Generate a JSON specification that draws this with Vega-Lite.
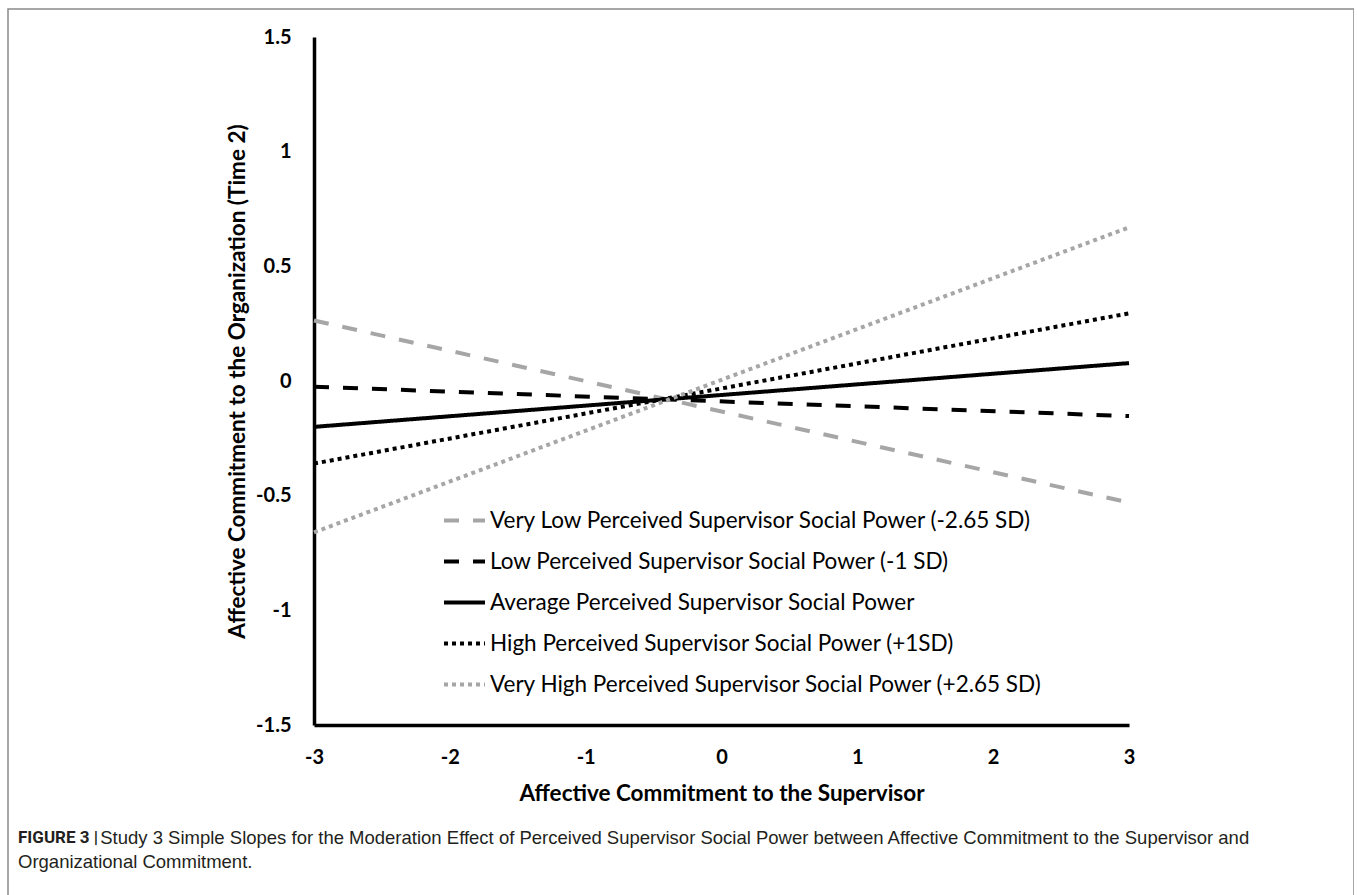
{
  "$schema": "https://vega.github.io/schema/vega-lite/v6.json",
  "width": 1346,
  "height": 900,
  "autosize": {"type": "none"},
  "padding": {"left": 8, "top": 9, "right": 0, "bottom": 0},
  "background": "white",
  "config": {
    "view": {"stroke": "#8a8a8a", "strokeWidth": 1.5},
    "font": "Lato",
    "axis": {
      "grid": false,
      "ticks": false,
      "tickSize": 0,
      "domainColor": "black",
      "domainWidth": 3.5,
      "labelFont": "Lato",
      "labelFontSize": 20,
      "labelFontWeight": "bold",
      "labelColor": "black",
      "titleFont": "Lato",
      "titleFontSize": 22.5,
      "titleFontWeight": "bold",
      "titleColor": "black",
      "labelFlush": false,
      "labelOverlap": false
    }
  },
  "title": {
    "text": "FIGURE 3 |",
    "subtitle": [
      "\u200b\u00a0\u00a0\u00a0\u00a0\u00a0\u00a0\u00a0\u00a0\u00a0\u00a0\u00a0\u00a0\u00a0\u00a0\u00a0\u00a0Study 3 Simple Slopes for the Moderation Effect of Perceived Supervisor Social Power between Affective Commitment to the Supervisor and",
      "Organizational Commitment."
    ],
    "orient": "bottom",
    "anchor": "start",
    "frame": "group",
    "dx": 10,
    "offset": -79,
    "baseline": "top",
    "font": "Roboto",
    "fontSize": 17,
    "fontWeight": "bold",
    "color": "#231f20",
    "subtitleFont": "Liberation Sans",
    "subtitleFontSize": 18.5,
    "subtitleFontWeight": "normal",
    "subtitleColor": "#231f20",
    "subtitlePadding": -18,
    "subtitleLineHeight": 24
  },
  "data": {
    "values": [
      {"x": -3, "y": 0.264, "series": "Very Low Perceived Supervisor Social Power (-2.65 SD)"},
      {"x": 3, "y": -0.53, "series": "Very Low Perceived Supervisor Social Power (-2.65 SD)"},
      {"x": -3, "y": -0.025, "series": "Low Perceived Supervisor Social Power (-1 SD)"},
      {"x": 3, "y": -0.153, "series": "Low Perceived Supervisor Social Power (-1 SD)"},
      {"x": -3, "y": -0.2, "series": "Average Perceived Supervisor Social Power"},
      {"x": 3, "y": 0.078, "series": "Average Perceived Supervisor Social Power"},
      {"x": -3, "y": -0.36, "series": "High Perceived Supervisor Social Power (+1SD)"},
      {"x": 3, "y": 0.295, "series": "High Perceived Supervisor Social Power (+1SD)"},
      {"x": -3, "y": -0.66, "series": "Very High Perceived Supervisor Social Power (+2.65 SD)"},
      {"x": 3, "y": 0.67, "series": "Very High Perceived Supervisor Social Power (+2.65 SD)"}
    ]
  },
  "mark": {"type": "line", "strokeWidth": 4},
  "encoding": {
    "x": {
      "field": "x",
      "type": "quantitative",
      "scale": {"domain": [-3, 3], "range": [306, 1121], "nice": false, "zero": false},
      "axis": {
        "orient": "bottom",
        "offset": -184,
        "values": [-3, -2, -1, 0, 1, 2, 3],
        "labelExpr": "'' + datum.value",
        "labelPadding": 22,
        "title": "Affective Commitment to the Supervisor",
        "titlePadding": 15
      }
    },
    "y": {
      "field": "y",
      "type": "quantitative",
      "scale": {"domain": [-1.5, 1.5], "range": [716, 28], "nice": false, "zero": false},
      "axis": {
        "orient": "left",
        "offset": -306,
        "values": [-1.5, -1, -0.5, 0, 0.5, 1, 1.5],
        "labelExpr": "'' + datum.value",
        "labelPadding": 23,
        "title": "Affective Commitment to the Organization (Time 2)",
        "titlePadding": 6
      }
    },
    "color": {
      "field": "series",
      "type": "nominal",
      "scale": {
        "domain": [
          "Very Low Perceived Supervisor Social Power (-2.65 SD)",
          "Low Perceived Supervisor Social Power (-1 SD)",
          "Average Perceived Supervisor Social Power",
          "High Perceived Supervisor Social Power (+1SD)",
          "Very High Perceived Supervisor Social Power (+2.65 SD)"
        ],
        "range": ["#a6a6a6", "#000000", "#000000", "#000000", "#a6a6a6"]
      },
      "legend": {
        "orient": "none",
        "legendX": 434,
        "legendY": 489,
        "title": null,
        "symbolType": "stroke",
        "symbolSize": 1681,
        "symbolStrokeWidth": 4,
        "labelFont": "Lato",
        "labelFontSize": 22.5,
        "labelColor": "black",
        "labelLimit": 800,
        "labelOffset": 3,
        "rowPadding": 7,
        "padding": 0
      }
    },
    "strokeDash": {
      "field": "series",
      "type": "nominal",
      "scale": {
        "domain": [
          "Very Low Perceived Supervisor Social Power (-2.65 SD)",
          "Low Perceived Supervisor Social Power (-1 SD)",
          "Average Perceived Supervisor Social Power",
          "High Perceived Supervisor Social Power (+1SD)",
          "Very High Perceived Supervisor Social Power (+2.65 SD)"
        ],
        "range": [[15, 14], [15, 14], [1, 0], [4, 4], [4, 4]]
      },
      "legend": {
        "orient": "none",
        "legendX": 434,
        "legendY": 489,
        "title": null,
        "symbolType": "stroke",
        "symbolSize": 1681,
        "symbolStrokeWidth": 4,
        "labelFont": "Lato",
        "labelFontSize": 22.5,
        "labelColor": "black",
        "labelLimit": 800,
        "labelOffset": 3,
        "rowPadding": 7,
        "padding": 0
      }
    }
  }
}
